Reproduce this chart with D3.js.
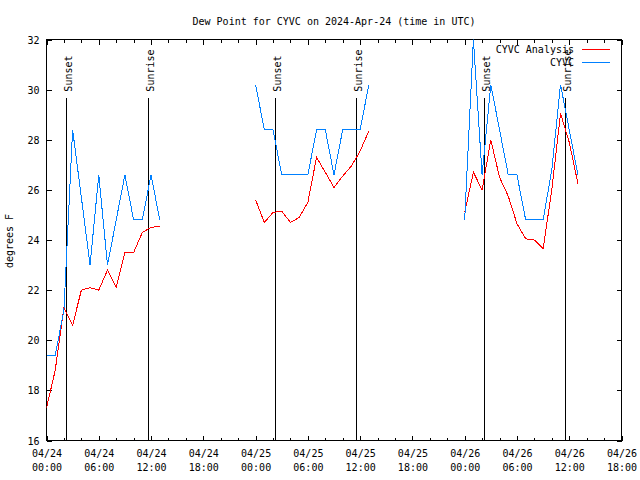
<!DOCTYPE html>
<html>
<head>
<meta charset="utf-8">
<script src="https://cdn.jsdelivr.net/npm/d3@7"></script>
<style>
  html, body { margin: 0; padding: 0; background: #fff; }
  svg { display: block; }
  text { font-family: "DejaVu Sans Mono", monospace; font-size: 10px; fill: #000; }
</style>
</head>
<body>
<svg id="chart" width="640" height="480"></svg>
<script>
// ---------- data ----------
const titleText = "Dew Point for CYVC on 2024-Apr-24 (time in UTC)";
const yLabelText = "degrees F";
const seriesNames = ["CYVC Analysis", "CYVC"];
const seriesColors = ["#ff0000", "#0080ff"];

// hourly times (null values mark gaps in data)
const times = [
  "2024-04-24T00:00Z","2024-04-24T01:00Z","2024-04-24T02:00Z","2024-04-24T03:00Z","2024-04-24T04:00Z",
  "2024-04-24T05:00Z","2024-04-24T06:00Z","2024-04-24T07:00Z","2024-04-24T08:00Z","2024-04-24T09:00Z",
  "2024-04-24T10:00Z","2024-04-24T11:00Z","2024-04-24T12:00Z","2024-04-24T13:00Z","2024-04-24T14:00Z",
  "2024-04-25T00:00Z","2024-04-25T01:00Z","2024-04-25T02:00Z","2024-04-25T03:00Z","2024-04-25T04:00Z",
  "2024-04-25T05:00Z","2024-04-25T06:00Z","2024-04-25T07:00Z","2024-04-25T08:00Z","2024-04-25T09:00Z",
  "2024-04-25T10:00Z","2024-04-25T11:00Z","2024-04-25T12:00Z","2024-04-25T13:00Z","2024-04-25T14:00Z",
  "2024-04-26T00:00Z","2024-04-26T01:00Z","2024-04-26T02:00Z","2024-04-26T03:00Z","2024-04-26T04:00Z",
  "2024-04-26T05:00Z","2024-04-26T06:00Z","2024-04-26T07:00Z","2024-04-26T08:00Z","2024-04-26T09:00Z",
  "2024-04-26T10:00Z","2024-04-26T11:00Z","2024-04-26T12:00Z","2024-04-26T13:00Z"
];
const analysisValues = [
  17.3, 18.8, 21.3, 20.6, 22.0, 22.1, 22.0, 22.8, 22.1, 23.5, 23.5, 24.3, 24.5, 24.55, null,
  25.6, 24.7, 25.1, 25.15, 24.7, 24.9, 25.5, 27.3, 26.7, 26.1, 26.55, 26.95, 27.55, 28.35, null,
  25.1, 26.7, 26.0, 28.0, 26.5, 25.75, 24.65, 24.05, 24.0, 23.65, 26.0, 29.05, 27.9, 26.25
];
const obsValues = [
  19.4, 19.4, 21.2, 28.4, 25.7, 23.0, 26.6, 23.0, 24.8, 26.6, 24.8, 24.8, 26.6, 24.8, null,
  30.2, 28.4, 28.4, 26.6, 26.6, 26.6, 26.6, 28.4, 28.4, 26.6, 28.4, 28.4, 28.4, 30.2, null,
  24.8, 32.0, 26.6, 30.2, 28.4, 26.6, 26.6, 24.8, 24.8, 24.8, 26.8, 30.2, 28.4, 26.6
];

const sunsetTimes  = ["2024-04-24T02:18Z", "2024-04-25T02:17Z", "2024-04-26T02:17Z"];
const sunriseTimes = ["2024-04-24T11:43Z", "2024-04-25T11:36Z", "2024-04-26T11:35Z"];

const xMajorTicks = [
  "2024-04-24T00:00Z","2024-04-24T06:00Z","2024-04-24T12:00Z","2024-04-24T18:00Z",
  "2024-04-25T00:00Z","2024-04-25T06:00Z","2024-04-25T12:00Z","2024-04-25T18:00Z",
  "2024-04-26T00:00Z","2024-04-26T06:00Z","2024-04-26T12:00Z","2024-04-26T18:00Z"
];
const xDomain = ["2024-04-24T00:00Z", "2024-04-26T18:00Z"];
const yTicks = [16, 18, 20, 22, 24, 26, 28, 30, 32];
const yDomain = [16, 32];

// ---------- drawing ----------
const svg = d3.select("#chart");
const L = 46.5, R = 621.5, T = 39.5, B = 440.5;

const x = d3.scaleUtc().domain(xDomain.map(d => new Date(d))).range([L, R]);
const y = d3.scaleLinear().domain(yDomain).range([B, T]);

const fmtDay = d3.utcFormat("%m/%d");
const fmtHr = d3.utcFormat("%H:%M");
const majorDates = xMajorTicks.map(d => new Date(d));
const minorDates = d3.utcHour.every(2).range(x.domain()[0], new Date(+x.domain()[1] + 1))
  .filter(d => d.getUTCHours() % 6 !== 0);

svg.append("defs").append("clipPath").attr("id", "clip")
  .append("rect").attr("x", L).attr("y", T).attr("width", R - L).attr("height", B - T);

// frame
svg.append("rect").attr("x", L).attr("y", T).attr("width", R - L).attr("height", B - T)
  .attr("fill", "none").attr("stroke", "#000").attr("stroke-width", 1)
  .attr("shape-rendering", "crispEdges");

function styleAxis(g) {
  g.select(".domain").remove();
  g.selectAll(".tick line").attr("stroke", "#000").attr("shape-rendering", "crispEdges");
}

// bottom axis (major, with labels)
const xb = svg.append("g").attr("transform", `translate(0,${B})`)
  .call(d3.axisBottom(x).tickValues(majorDates).tickSizeInner(-5).tickSizeOuter(0).tickPadding(0).tickFormat(""))
  .call(styleAxis);
xb.selectAll(".tick text").remove();
xb.selectAll(".tick").each(function(d) {
  const t = d3.select(this).append("text").attr("text-anchor", "middle").attr("fill", "#000");
  t.append("tspan").attr("x", 0).attr("y", 16).text(fmtDay(d));
  t.append("tspan").attr("x", 0).attr("y", 30).text(fmtHr(d));
});
// bottom minor
svg.append("g").attr("transform", `translate(0,${B})`)
  .call(d3.axisBottom(x).tickValues(minorDates).tickSizeInner(-3).tickSizeOuter(0).tickFormat(""))
  .call(styleAxis);
// top major/minor
svg.append("g").attr("transform", `translate(0,${T})`)
  .call(d3.axisTop(x).tickValues(majorDates).tickSizeInner(-5).tickSizeOuter(0).tickFormat(""))
  .call(styleAxis);
svg.append("g").attr("transform", `translate(0,${T})`)
  .call(d3.axisTop(x).tickValues(minorDates).tickSizeInner(-3).tickSizeOuter(0).tickFormat(""))
  .call(styleAxis);

// left axis
const yl = svg.append("g").attr("transform", `translate(${L},0)`)
  .call(d3.axisLeft(y).tickValues(yTicks).tickSizeInner(-5).tickSizeOuter(0).tickPadding(7).tickFormat(d3.format("d")))
  .call(styleAxis);
yl.selectAll(".tick text").attr("font-family", null).attr("font-size", null).attr("fill", "#000")
  .attr("text-anchor", "end").attr("dy", "0.36em");
// right axis
svg.append("g").attr("transform", `translate(${R},0)`)
  .call(d3.axisRight(y).tickValues(yTicks).tickSizeInner(-5).tickSizeOuter(0).tickFormat(""))
  .call(styleAxis);

// title and y label
svg.append("text").attr("x", (L + R) / 2).attr("y", 25).attr("text-anchor", "middle").text(titleText);
svg.append("text").attr("transform", "translate(13,241) rotate(-90)").attr("text-anchor", "middle").text(yLabelText);

// sunset / sunrise markers
const lineTop = y(29.68);
const markers = sunsetTimes.map(t => ({ t: new Date(t), label: "Sunset" }))
  .concat(sunriseTimes.map(t => ({ t: new Date(t), label: "Sunrise" })));
const mg = svg.append("g");
markers.forEach(m => {
  const xp = Math.round(x(m.t) - 0.5) + 0.5;
  mg.append("line").attr("x1", xp).attr("x2", xp).attr("y1", lineTop).attr("y2", B)
    .attr("stroke", "#000").attr("stroke-width", 1).attr("shape-rendering", "crispEdges");
  mg.append("text").attr("transform", `translate(${xp + 5},${lineTop - 6}) rotate(-90)`)
    .attr("text-anchor", "start").text(m.label);
});

// data lines
const rows = times.map((t, i) => ({ t: new Date(t), a: analysisValues[i], o: obsValues[i] }));
const plot = svg.append("g").attr("clip-path", "url(#clip)");
const mkLine = key => d3.line().defined(d => d[key] != null).x(d => x(d.t)).y(d => y(d[key]));
plot.append("path").datum(rows).attr("d", mkLine("a"))
  .attr("fill", "none").attr("stroke", seriesColors[0]).attr("stroke-width", 1).attr("shape-rendering", "crispEdges");
plot.append("path").datum(rows).attr("d", mkLine("o"))
  .attr("fill", "none").attr("stroke", seriesColors[1]).attr("stroke-width", 1).attr("shape-rendering", "crispEdges");

// legend
const legY = [49.5, 62.5];
seriesNames.forEach((name, i) => {
  svg.append("text").attr("x", 574).attr("y", legY[i]).attr("dy", "0.36em")
    .attr("text-anchor", "end").text(name);
  svg.append("line").attr("x1", 582).attr("x2", 610).attr("y1", legY[i]).attr("y2", legY[i])
    .attr("stroke", seriesColors[i]).attr("stroke-width", 1).attr("shape-rendering", "crispEdges");
});
</script>
</body>
</html>
